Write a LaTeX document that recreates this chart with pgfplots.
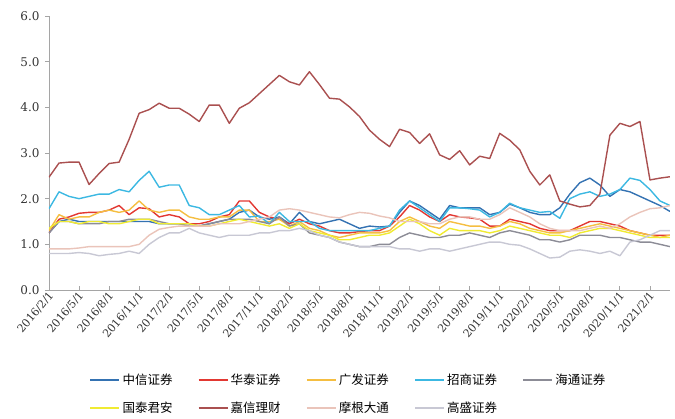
\documentclass[border=0pt]{standalone}
\usepackage{fontspec}
\setmainfont{DejaVu Serif}
\newfontfamily\cjk{Noto Sans CJK SC}
\usepackage{pgfplots}
\usepackage{pgfplotstable}
\pgfplotsset{compat=1.18}

\definecolor{axgray}{RGB}{165,165,165}
\definecolor{czx}{RGB}{52,114,178}
\definecolor{cht}{RGB}{226,56,50}
\definecolor{cgf}{RGB}{245,190,65}
\definecolor{czs}{RGB}{60,184,226}
\definecolor{chti}{RGB}{140,140,150}
\definecolor{cgt}{RGB}{240,235,50}
\definecolor{cjx}{RGB}{170,80,80}
\definecolor{cmg}{RGB}{234,196,186}
\definecolor{cgs}{RGB}{200,200,212}

% monthly, i=0 is 2016/2
\pgfplotstableread{
i zx ht gf zs hti gt jx mg gs
0 1.25 1.25 1.30 1.78 1.25 1.35 2.47 0.90 0.80
1 1.50 1.55 1.65 2.15 1.50 1.50 2.78 0.90 0.80
2 1.55 1.60 1.55 2.05 1.50 1.50 2.80 0.90 0.80
3 1.50 1.68 1.60 2.00 1.45 1.45 2.80 0.92 0.82
4 1.50 1.70 1.60 2.05 1.45 1.50 2.31 0.95 0.80
5 1.50 1.70 1.70 2.10 1.45 1.50 2.55 0.95 0.75
6 1.50 1.75 1.75 2.10 1.50 1.45 2.77 0.95 0.78
7 1.50 1.85 1.70 2.20 1.50 1.45 2.80 0.95 0.80
8 1.50 1.65 1.75 2.15 1.55 1.50 3.30 0.95 0.85
9 1.50 1.80 1.95 2.40 1.55 1.55 3.87 1.00 0.80
10 1.50 1.78 1.75 2.60 1.55 1.55 3.95 1.20 1.00
11 1.45 1.60 1.70 2.25 1.50 1.45 4.09 1.33 1.15
12 1.45 1.65 1.75 2.30 1.45 1.45 3.98 1.37 1.25
13 1.45 1.60 1.75 2.30 1.45 1.45 3.98 1.40 1.25
14 1.45 1.45 1.60 1.85 1.40 1.45 3.85 1.40 1.35
15 1.40 1.45 1.55 1.80 1.40 1.40 3.69 1.40 1.25
16 1.45 1.50 1.55 1.65 1.45 1.40 4.05 1.40 1.20
17 1.50 1.60 1.60 1.65 1.50 1.45 4.05 1.45 1.15
18 1.55 1.65 1.60 1.75 1.55 1.50 3.65 1.45 1.20
19 1.70 1.95 1.75 1.85 1.55 1.55 3.98 1.45 1.20
20 1.75 1.95 1.75 1.60 1.55 1.50 4.10 1.50 1.20
21 1.60 1.70 1.50 1.62 1.50 1.45 4.30 1.55 1.25
22 1.55 1.60 1.50 1.45 1.45 1.40 4.50 1.60 1.25
23 1.60 1.55 1.55 1.70 1.60 1.45 4.70 1.75 1.30
24 1.45 1.45 1.40 1.50 1.40 1.35 4.56 1.78 1.30
25 1.70 1.55 1.50 1.50 1.45 1.45 4.49 1.75 1.35
26 1.50 1.45 1.35 1.50 1.25 1.30 4.78 1.70 1.30
27 1.45 1.40 1.30 1.35 1.20 1.25 4.50 1.65 1.20
28 1.50 1.30 1.20 1.30 1.15 1.20 4.20 1.60 1.15
29 1.55 1.25 1.15 1.30 1.05 1.10 4.18 1.58 1.05
30 1.45 1.25 1.20 1.30 1.00 1.10 4.01 1.65 1.00
31 1.35 1.28 1.25 1.30 0.95 1.15 3.80 1.70 0.95
32 1.40 1.30 1.25 1.30 0.95 1.20 3.50 1.68 0.95
33 1.38 1.30 1.25 1.35 1.00 1.20 3.30 1.62 0.95
34 1.40 1.40 1.30 1.40 1.00 1.25 3.14 1.58 0.95
35 1.70 1.60 1.50 1.75 1.15 1.40 3.52 1.50 0.90
36 1.95 1.85 1.60 1.95 1.25 1.55 3.45 1.50 0.90
37 1.85 1.75 1.50 1.80 1.20 1.45 3.21 1.50 0.85
38 1.70 1.60 1.40 1.65 1.15 1.30 3.42 1.45 0.90
39 1.55 1.50 1.35 1.50 1.15 1.20 2.96 1.45 0.90
40 1.85 1.65 1.50 1.80 1.20 1.35 2.86 1.55 0.85
41 1.80 1.60 1.45 1.80 1.20 1.30 3.05 1.60 0.90
42 1.80 1.58 1.40 1.78 1.25 1.30 2.74 1.60 0.95
43 1.80 1.55 1.40 1.75 1.20 1.30 2.93 1.55 1.00
44 1.65 1.40 1.35 1.60 1.15 1.25 2.88 1.55 1.05
45 1.70 1.40 1.40 1.70 1.25 1.30 3.43 1.65 1.05
46 1.88 1.55 1.50 1.90 1.30 1.40 3.28 1.80 1.00
47 1.80 1.50 1.45 1.80 1.25 1.35 3.07 1.70 0.98
48 1.70 1.45 1.35 1.75 1.20 1.30 2.60 1.60 0.90
49 1.65 1.35 1.30 1.70 1.10 1.25 2.30 1.45 0.80
50 1.65 1.30 1.25 1.72 1.10 1.20 2.52 1.35 0.70
51 1.80 1.30 1.25 1.57 1.05 1.20 1.95 1.30 0.72
52 2.10 1.30 1.30 2.00 1.10 1.15 1.88 1.30 0.85
53 2.35 1.40 1.35 2.10 1.20 1.25 1.82 1.30 0.88
54 2.45 1.50 1.40 2.15 1.20 1.30 1.85 1.35 0.85
55 2.30 1.50 1.45 2.05 1.20 1.35 2.10 1.40 0.80
56 2.05 1.45 1.40 2.10 1.15 1.35 3.39 1.35 0.85
57 2.20 1.40 1.35 2.20 1.15 1.30 3.65 1.45 0.75
58 2.15 1.30 1.30 2.45 1.10 1.25 3.58 1.60 1.05
59 2.05 1.25 1.25 2.40 1.05 1.20 3.69 1.70 1.10
60 1.95 1.20 1.20 2.20 1.05 1.15 2.41 1.78 1.20
61 1.85 1.20 1.15 1.95 1.00 1.15 2.45 1.80 1.30
62 1.72 1.20 1.20 1.85 0.95 1.15 2.48 1.85 1.30
}\data

\begin{document}
\begin{tikzpicture}
\begin{axis}[
  name=ax,
  scale only axis,
  width=621pt, height=274pt,
  xmin=0, xmax=62, ymin=0, ymax=6,
  xtick={0,3,...,60},
  xticklabels={2016/2/1,2016/5/1,2016/8/1,2016/11/1,2017/2/1,2017/5/1,2017/8/1,2017/11/1,2018/2/1,2018/5/1,2018/8/1,2018/11/1,2019/2/1,2019/5/1,2019/8/1,2019/11/1,2020/2/1,2020/5/1,2020/8/1,2020/11/1,2021/2/1},
  ytick={0,1,...,6},
  axis x line*=bottom, axis y line*=left,
  axis line style={-, draw=axgray, line width=0.9pt},
  tick style={draw=axgray, line width=0.9pt},
  major tick length=4pt,
  tick align=inside,
  ytick style={xshift=-4pt},
  x tick label style={rotate=50, anchor=east, font=\fontsize{11}{12}\selectfont, text=black!80, inner sep=1pt, yshift=-4pt},
  y tick label style={font=\fontsize{12}{14}\selectfont, text=black!80, xshift=-6pt},
  yticklabel style={/pgf/number format/.cd, fixed, fixed zerofill, precision=1, assume math mode=true},
  no markers,
  every axis plot/.append style={line width=1.4pt, line join=round},
  legend columns=5,
  legend image code/.code={\draw[#1, line width=2.2pt] (0pt,0pt) -- (29pt,0pt);},
  legend style={at={(0.482,-0.29)}, anchor=north, draw=none,
    font=\cjk\fontsize{12.5}{14}\selectfont,
    /tikz/every even column/.append style={column sep=23pt},
    row sep=12pt},
]
\addplot[czx] table[x=i, y=zx] {\data};
\addplot[cht] table[x=i, y=ht] {\data};
\addplot[cgf] table[x=i, y=gf] {\data};
\addplot[czs] table[x=i, y=zs] {\data};
\addplot[chti] table[x=i, y=hti] {\data};
\addplot[cgt] table[x=i, y=gt] {\data};
\addplot[cjx] table[x=i, y=jx] {\data};
\addplot[cmg] table[x=i, y=mg] {\data};
\addplot[cgs] table[x=i, y=gs] {\data};
\legend{中信证券,华泰证券,广发证券,招商证券,海通证券,国泰君安,嘉信理财,摩根大通,高盛证券}
\end{axis}
\pgfresetboundingbox
\path[use as bounding box] (ax.south west) ++(-49pt,-128pt) rectangle ++(675pt,418pt);
\end{tikzpicture}
\end{document}
